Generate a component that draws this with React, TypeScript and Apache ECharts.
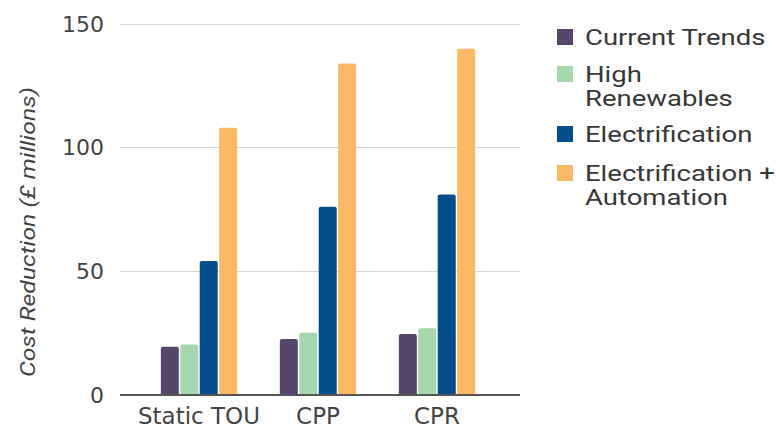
import React, { useEffect, useRef } from "react";
import * as echarts from "echarts";

const categories = ["Static TOU", "CPP", "CPR"];
const seriesNames = ["Current Trends", "High Renewables", "Electrification", "Electrification + Automation"];
const legendLabels = [["Current Trends"], ["High", "Renewables"], ["Electrification"], ["Electrification +", "Automation"]];
const currentTrends = [19.3, 22.5, 24.5];
const highRenewables = [20.2, 25, 26.8];
const electrification = [54, 76, 81];
const electrificationAutomation = [108, 134, 140];
const colors = ["#56476a", "#a6d6ae", "#034d89", "#fbb966"];
const yTicks = { min: 0, max: 150, interval: 50 };

const FONT = "'DejaVu Sans'";
const TITLE_FONT = "Roboto";

export default function App() {
  const ref = useRef<HTMLDivElement>(null);
  useEffect(() => {
    const chart = echarts.init(ref.current!, null, { renderer: "svg" });
    const values = [currentTrends, highRenewables, electrification, electrificationAutomation];
    const legendY = [37, 74, 134, 173];
    const lineH = 24;
    const graphic: any[] = [];
    legendLabels.forEach((lines, i) => {
      graphic.push({
        type: "rect",
        shape: { x: 557, y: legendY[i] - 8, width: 16, height: 16 },
        style: { fill: colors[i] },
      });
      lines.forEach((t, j) => {
        graphic.push({
          type: "text",
          x: 585,
          y: legendY[i] + j * lineH,
          scaleX: 1.25,
          style: {
            text: t,
            fill: "#383838",
            font: `22px ${TITLE_FONT}`,
            verticalAlign: "middle",
            align: "left",
          },
        });
      });
    });
    graphic.push({
      type: "text",
      x: 28,
      y: 232,
      rotation: Math.PI / 2,
      scaleX: 1.24,
      style: {
        text: "Cost Reduction (£ millions)",
        fill: "#444",
        font: `italic 20px ${TITLE_FONT}`,
        align: "center",
        verticalAlign: "middle",
      },
    });
    chart.setOption({
      animation: false,
      textStyle: { fontFamily: FONT },
      grid: [
        { left: 120, width: 400, top: 24, bottom: 32 },
        { left: 139.5, width: 357, top: 24, bottom: 32 },
      ],
      xAxis: [
        {
          type: "value",
          gridIndex: 0,
          min: 0,
          max: 1,
          axisLine: { show: false },
          axisTick: { show: false },
          axisLabel: { show: false },
          splitLine: { show: false },
        },
        {
          type: "category",
          gridIndex: 1,
          data: categories,
          axisLine: { show: false },
          axisTick: { show: false },
          axisLabel: {
            color: "#444",
            fontSize: 23,
            lineHeight: 20,
            margin: 11,
            fontFamily: FONT,
            interval: 0,
          },
        },
      ],
      yAxis: [
        {
          type: "value",
          gridIndex: 0,
          ...yTicks,
          axisLine: { show: false },
          axisTick: { show: false },
          axisLabel: { color: "#444", fontSize: 22, margin: 16, fontFamily: FONT },
          splitLine: { lineStyle: { color: "#d4d4d4", width: 1 } },
        },
        {
          type: "value",
          gridIndex: 1,
          ...yTicks,
          show: false,
        },
      ],
      graphic,
      series: [
        ...seriesNames.map((name, i) => ({
          name,
          type: "bar",
          xAxisIndex: 1,
          yAxisIndex: 1,
          data: values[i],
          barWidth: 18,
          barGap: "8%",
          itemStyle: { color: colors[i], borderRadius: [2, 2, 0, 0] },
        })),
        {
          type: "line",
          xAxisIndex: 0,
          yAxisIndex: 0,
          data: [[0, 0], [1, 0]],
          symbol: "none",
          lineStyle: { color: "#555", width: 2 },
          z: 5,
        },
      ],
    });
    return () => chart.dispose();
  }, []);
  return <div ref={ref} style={{ width: 776, height: 427, position: "absolute", left: 0, top: 0 }} />;
}
